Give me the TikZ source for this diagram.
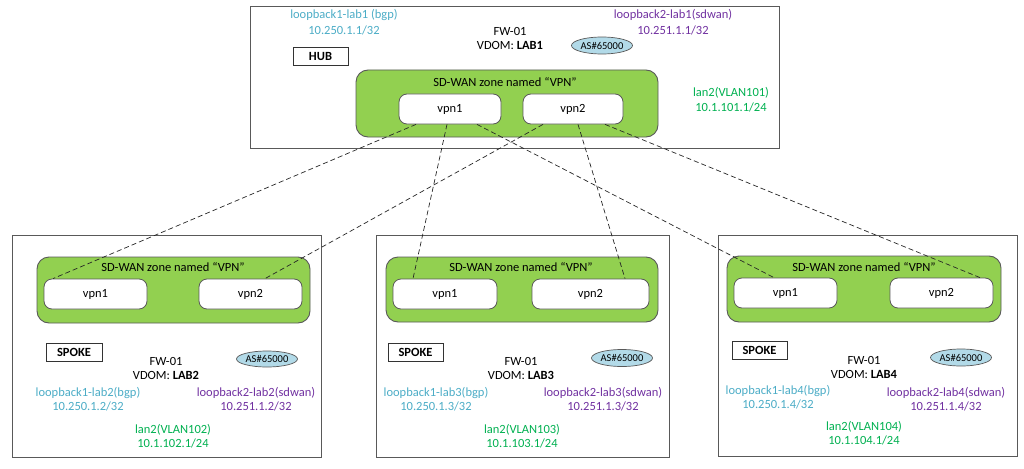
\documentclass[tikz,border=0pt]{standalone}
\usepackage{fontspec}
\setmainfont{Carlito}
\usetikzlibrary{shapes.geometric,calc}
\definecolor{zonegreen}{RGB}{146,208,80}
\definecolor{bgpblue}{RGB}{75,172,198}
\definecolor{sdwanpurple}{RGB}{112,48,160}
\definecolor{langreen}{RGB}{0,176,80}
\definecolor{aslight}{RGB}{178,218,232}
\definecolor{edgegray}{RGB}{89,89,89}

\begin{document}
\begin{tikzpicture}[x=1pt, y=-1pt,
  every node/.style={inner sep=0pt, font=\fontsize{12.5}{14}\selectfont, align=center},
  fwbox/.style={draw=edgegray, line width=0.9pt, rectangle},
  zonebox/.style={draw=edgegray, line width=0.9pt, fill=zonegreen, rectangle, rounded corners=12pt},
  vpnbox/.style={draw=edgegray, line width=0.8pt, fill=white, rectangle, rounded corners=8pt, minimum height=30pt},
  rolebox/.style={draw=black!80, line width=0.9pt, rectangle, minimum height=18pt, font=\fontsize{12.5}{14}\selectfont\bfseries},
  asnum/.style={draw=edgegray, line width=0.7pt, fill=aslight, ellipse, minimum width=61pt, minimum height=17pt, font=\fontsize{10.5}{12}\selectfont},
  bgp/.style={text=bgpblue},
  sdwan/.style={text=sdwanpurple},
  lan/.style={text=langreen},
  tunnel/.style={dash pattern=on 5pt off 3pt, line width=0.7pt, black!85}]
  \useasboundingbox (0,0) rectangle (1024,468);

  % hub
  \node[fwbox, minimum width=529pt, minimum height=142pt] (hub) at (514.5,77) {};
  \node[rolebox, minimum width=55pt] (hubrole) at (320.5,56) {HUB};
  \node (hubname) at (510,38.5) {FW-01\\VDOM: \textbf{LAB1}};
  \node[asnum] (hubas) at (602,45.5) {AS\#65000};
  \node[bgp] (hublo1) at (344,22) {loopback1-lab1 (bgp)\\[2pt]10.250.1.1/32};
  \node[sdwan] (hublo2) at (673,22) {loopback2-lab1(sdwan)\\[2pt]10.251.1.1/32};
  \node[lan] (hublan) at (731,99.5) {lan2(VLAN101)\\[1pt]10.1.101.1/24};
  \node[zonebox, minimum width=302pt, minimum height=67pt] (hubzone) at (507,103.5) {};
  \node (hubzonetxt) at (505,82) {SD-WAN zone named “VPN”};
  \node[vpnbox, minimum width=102pt] (hv1) at (450,109) {vpn1};
  \node[vpnbox, minimum width=100pt] (hv2) at (573,109) {vpn2};

  % spoke lab2
  \node[fwbox, minimum width=309pt, minimum height=222pt] (s1) at (166.5,346) {};
  \node[zonebox, minimum width=273pt, minimum height=66pt] (s1zone) at (173.5,290) {};
  \node (s1zonetxt) at (173,267) {SD-WAN zone named “VPN”};
  \node[vpnbox, minimum width=103pt] (s1v1) at (95.5,294) {vpn1};
  \node[vpnbox, minimum width=103pt] (s1v2) at (250.5,294) {vpn2};
  \node[rolebox, minimum width=56pt] (s1role) at (74,352) {SPOKE};
  \node (s1name) at (166,368) {FW-01\\VDOM: \textbf{LAB2}};
  \node[asnum, minimum height=16pt] (s1as) at (267,359) {AS\#65000};
  \node[bgp] (s1lo1) at (88,399) {loopback1-lab2(bgp)\\10.250.1.2/32};
  \node[sdwan] (s1lo2) at (256,399) {loopback2-lab2(sdwan)\\10.251.1.2/32};
  \node[lan] (s1lan) at (173,436) {lan2(VLAN102)\\10.1.102.1/24};

  % spoke lab3
  \node[fwbox, minimum width=293pt, minimum height=222pt] (s2) at (522.5,346) {};
  \node[zonebox, minimum width=272pt, minimum height=65pt] (s2zone) at (522,289.5) {};
  \node (s2zonetxt) at (521,267) {SD-WAN zone named “VPN”};
  \node[vpnbox, minimum width=104pt] (s2v1) at (445,294) {vpn1};
  \node[vpnbox, minimum width=117pt] (s2v2) at (590.5,294) {vpn2};
  \node[rolebox, minimum width=55pt] (s2role) at (415.5,352) {SPOKE};
  \node (s2name) at (521,368) {FW-01\\VDOM: \textbf{LAB3}};
  \node[asnum] (s2as) at (622,358) {AS\#65000};
  \node[bgp] (s2lo1) at (436,399) {loopback1-lab3(bgp)\\10.250.1.3/32};
  \node[sdwan] (s2lo2) at (603,399) {loopback2-lab3(sdwan)\\10.251.1.3/32};
  \node[lan] (s2lan) at (522,436) {lan2(VLAN103)\\10.1.103.1/24};

  % spoke lab4
  \node[fwbox, minimum width=299pt, minimum height=221pt] (s3) at (867.5,345.5) {};
  \node[zonebox, minimum width=274pt, minimum height=66pt] (s3zone) at (864,289) {};
  \node (s3zonetxt) at (864,267) {SD-WAN zone named “VPN”};
  \node[vpnbox, minimum width=103pt] (s3v1) at (785.5,293) {vpn1};
  \node[vpnbox, minimum width=103pt] (s3v2) at (941.5,293) {vpn2};
  \node[rolebox, minimum width=55pt] (s3role) at (759.5,350.5) {SPOKE};
  \node (s3name) at (864,367.5) {FW-01\\VDOM: \textbf{LAB4}};
  \node[asnum] (s3as) at (961,357.5) {AS\#65000};
  \node[bgp] (s3lo1) at (778,397) {loopback1-lab4(bgp)\\10.250.1.4/32};
  \node[sdwan] (s3lo2) at (946,399.5) {loopback2-lab4(sdwan)\\10.251.1.4/32};
  \node[lan] (s3lan) at (864,433) {lan2(VLAN104)\\10.1.104.1/24};

  % tunnels
  \draw[tunnel] ([xshift=-34pt]hv1.south) -- ([xshift=-42.5pt]s1v1.north);
  \draw[tunnel] ([xshift=-3pt]hv1.south) -- ([xshift=-32pt]s2v1.north);
  \draw[tunnel] ([xshift=27pt]hv1.south) -- ([xshift=-11.5pt]s3v1.north);
  \draw[tunnel] ([xshift=-30pt]hv2.south) -- ([xshift=14.5pt]s1v2.north);
  \draw[tunnel] ([xshift=5pt]hv2.south) -- ([xshift=34.5pt]s2v2.north);
  \draw[tunnel] ([xshift=32pt]hv2.south) -- ([xshift=38.5pt]s3v2.north);
\end{tikzpicture}
\end{document}
